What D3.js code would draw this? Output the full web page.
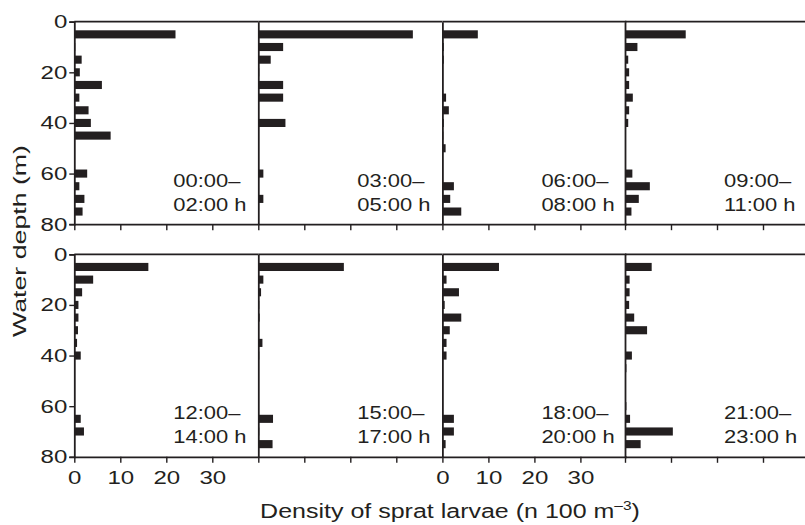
<!DOCTYPE html>
<html><head><meta charset="utf-8">
<script src="https://cdn.jsdelivr.net/npm/d3@7"></script>
<style>
body{margin:0;background:#fff}
svg{display:block}
text{font-family:"Liberation Sans",Arial,Helvetica,sans-serif}
</style>
</head><body>
<svg id="c" width="805" height="525"></svg>
<script>
// ---- data ----
const depths = [5,10,15,20,25,30,35,40,45,50,55,60,65,70,75];
const xTicks = [0,10,20,30];
const yTicks = [0,20,40,60,80];
const startLabels = ["00:00–","03:00–","06:00–","09:00–","12:00–","15:00–","18:00–","21:00–"];
const endLabels   = ["02:00 h","05:00 h","08:00 h","11:00 h","14:00 h","17:00 h","20:00 h","23:00 h"];
const dens0000 = [22.0,0.2,1.6,1.2,6.0,1.1,3.1,3.6,7.9,0,0,2.8,1.1,2.2,1.8];
const dens0300 = [33.6,5.4,2.7,0.2,5.4,5.4,0,5.9,0,0,0,1.1,0,1.1,0];
const dens0600 = [7.7,0.3,0.3,0,0,0.8,1.4,0.3,0.2,0.7,0,0,2.5,1.7,4.1];
const dens0900 = [13.2,2.7,0.7,0.9,0.9,1.7,0.9,0.7,0,0,0,1.6,5.4,3.0,1.4];
const dens1200 = [16.1,4.1,1.7,0.9,0.9,0.8,0.6,1.4,0.1,0,0,0,1.4,2.1,0];
const dens1500 = [18.6,1.1,0.6,0.2,0.3,0,0.9,0.2,0,0,0,0.1,3.2,0.2,3.1];
const dens1800 = [12.3,0.9,3.6,0.5,4.1,1.6,0.9,0.9,0,0,0,0,2.5,2.5,0.7];
const dens2100 = [5.8,1.0,1.0,0.9,2.0,4.8,0,1.5,0.3,0,0,0.3,1.1,10.4,3.4];
const panelValues = [dens0000,dens0300,dens0600,dens0900,dens1200,dens1500,dens1800,dens2100];

// ---- layout ----
const ink = "#231f20";
const svg = d3.select("#c");
const colX = [74.3, 258.3, 442.4, 625];
const rowY = [21.7, 254.3];
const panelW = 184, panelH = 202.5;
const barT = 3.2;            // bar thickness in metres
const tickFont = 18.5, tickScale = 1.3;
const labFont = 18.6, labScale = 1.18;

const x = d3.scaleLinear().domain([0,40]).range([0,panelW]);
const y = d3.scaleLinear().domain([0,80]).range([0,panelH]);

function styleAxis(g){
  g.attr("color", ink);
  g.select(".domain").attr("stroke-width", 1.8);
  g.selectAll(".tick line").attr("stroke-width", 1.4);
  g.selectAll("text").attr("font-size", tickFont).attr("font-family", '"Liberation Sans",Arial,sans-serif').attr("fill", ink);
}

for (let r = 0; r < 2; r++) {
  for (let c = 0; c < 4; c++) {
    const i = r*4 + c;
    const g = svg.append("g").attr("transform", `translate(${colX[c]},${rowY[r]})`);

    // bars
    g.selectAll("rect").data(depths.map((d,k)=>({d, v: panelValues[i][k]})).filter(o=>o.v>0))
      .join("rect")
      .attr("x", x(0))
      .attr("y", o => y(o.d - barT/2))
      .attr("width", o => x(o.v) - x(0))
      .attr("height", y(barT) - y(0))
      .attr("fill", ink);

    // top border
    g.append("line").attr("x1", x(0)).attr("x2", x(40)).attr("y1", y(0)).attr("y2", y(0))
      .attr("stroke", ink).attr("stroke-width", 1.8);

    // left axis
    const ax = d3.axisLeft(y).tickSizeOuter(0);
    if (c === 0) ax.tickValues(yTicks).tickSize(5).tickPadding(2);
    else ax.tickValues([]);
    const gy = g.append("g").call(ax);
    styleAxis(gy);
    gy.selectAll("text").attr("x", -7/tickScale).attr("transform", `scale(${tickScale},1)`);

    // bottom axis
    const bx = d3.axisBottom(x).tickValues(xTicks).tickSize(6).tickSizeOuter(0).tickPadding(8);
    const showLab = (r === 1 && (c === 0 || c === 2));
    if (!showLab) bx.tickFormat("");
    const gx = g.append("g").attr("transform", `translate(0,${y(80)})`).call(bx);
    styleAxis(gx);
    gx.selectAll("text").attr("transform", `scale(${tickScale},1)`);

    // time labels
    const lg = g.append("g").attr("transform", `translate(${x(0)+99},${y(0)+165})`);
    lg.append("text").attr("transform", `scale(${labScale},1)`).attr("font-size", labFont).attr("fill", ink)
      .text(startLabels[i]);
    const lg2 = g.append("g").attr("transform", `translate(${x(0)+99},${y(0)+189})`);
    lg2.append("text").attr("transform", `scale(${labScale},1)`).attr("font-size", labFont).attr("fill", ink)
      .text(endLabels[i]);
  }
}

// titles, fitted to measured widths
function fitText(t, target){
  const w = t.node().getComputedTextLength();
  t.attr("transform", `scale(${target/w},1)`);
}
const xt = svg.append("g").attr("transform", "translate(450,518)")
  .append("text").attr("text-anchor","middle").attr("font-size", 21).attr("fill", ink);
xt.append("tspan").text("Density of sprat larvae (n 100 m");
xt.append("tspan").attr("font-size", 13).attr("dy", -8).text("–3");
xt.append("tspan").attr("dy", 8).text(")");
fitText(xt, 380);

const yt = svg.append("g").attr("transform", "translate(25.5,241) rotate(-90)")
  .append("text").attr("text-anchor","middle").attr("font-size", 18.6).attr("fill", ink)
  .text("Water depth (m)");
fitText(yt, 192);
</script>
</body></html>
